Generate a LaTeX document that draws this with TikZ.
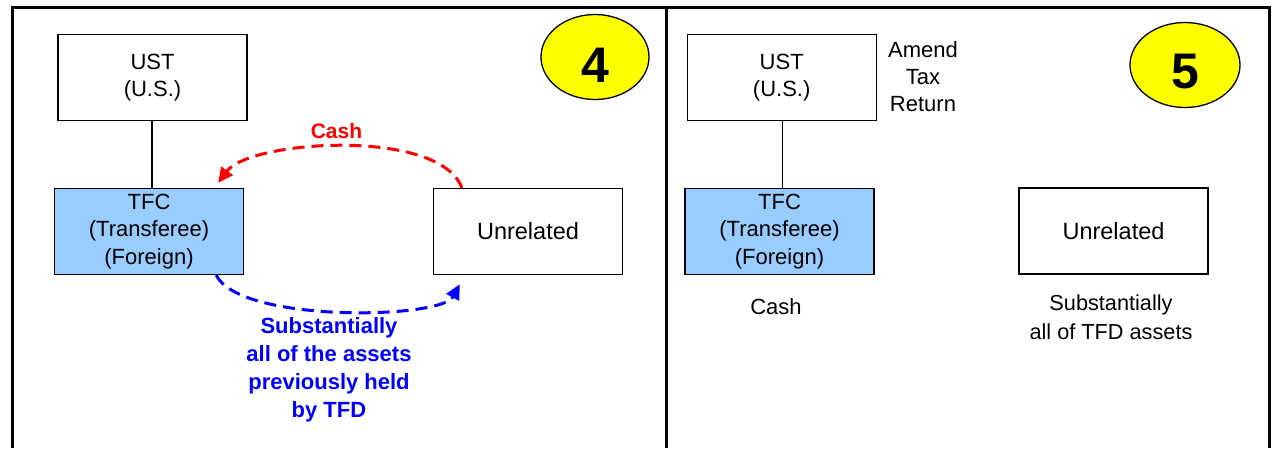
\documentclass[tikz,border=0pt]{standalone}
\usepackage{fontspec}
\setmainfont{Liberation Sans}
\usetikzlibrary{shapes.geometric,arrows.meta}
\definecolor{boxblue}{HTML}{99CCFF}
\definecolor{tagyellow}{HTML}{FFFF00}
\tikzset{
  entity/.style={draw=black, line width=1.4pt, minimum width=189pt, minimum height=86pt,
    inner sep=0pt, align=center, font=\fontsize{22}{27.5}\selectfont},
  foreign/.style={entity, fill=boxblue},
  plain/.style={align=center, inner sep=0pt, font=\fontsize{22}{27}\selectfont},
  boldnote/.style={align=center, inner sep=0pt, font=\bfseries\fontsize{22}{28}\selectfont},
  tag/.style={ellipse, draw=black, line width=1.3pt, fill=tagyellow, inner sep=0pt},
  digit/.style={inner sep=0pt, font=\bfseries\fontsize{50}{50}\selectfont},
  flow/.style={dashed, dash pattern=on 12pt off 7pt, line width=3pt,
    -{Triangle[length=15pt,width=14pt]}},
  frame/.style={line width=3pt}
}
\begin{document}
\begin{tikzpicture}[x=1pt, y=-1pt]
\useasboundingbox (0,0) rectangle (1272,448);

% panel frame
\draw[frame] (12,448) -- (12,7) -- (1269,7) -- (1269,448);
\draw[frame] (666.5,7) -- (666.5,448);

% ---- step 4 ----
\node[entity]  (ustL)   at (152.5,77.5) {UST\\(U.S.)};
\node[foreign] (tfcL)   at (149,231.5) {TFC\\(Transferee)\\(Foreign)};
\node[entity, font=\fontsize{23.5}{28}\selectfont] (unrelL) at (528,231.5) {Unrelated};
\draw[line width=1.2pt] (ustL.south -| 152,0) -- (tfcL.north -| 152,0);

\node[tag, minimum width=108pt, minimum height=85pt] (e4) at (595,57) {};
\node[digit] (d4) at ([yshift=-8pt]e4.center) {4};

\draw[flow, red] ([xshift=29pt]unrelL.north west)
  .. controls +(-22,-60) and +(32,-43) .. ([xshift=-26pt,yshift=5pt]tfcL.north east);
\node[boldnote, text=red, font=\bfseries\fontsize{21}{28}\selectfont] (cashL) at (336.5,131) {Cash};

\draw[flow, blue] ([xshift=-28pt]tfcL.south east)
  .. controls +(24,48) and +(-19,35) .. ([xshift=27pt,yshift=-9pt]unrelL.south west);
\node[boldnote, text=blue] (assetsL) at (329,370) {Substantially\\all of the assets\\previously held\\by TFD};

% ---- step 5 ----
\node[entity]  (ustR)   at (781.7,77.5) {UST\\(U.S.)};
\node[foreign] (tfcR)   at (779.5,231.5) {TFC\\(Transferee)\\(Foreign)};
\node[entity, font=\fontsize{23.5}{28}\selectfont] (unrelR) at (1113.5,231) {Unrelated};
\draw[line width=1.2pt] (ustR.south -| 782.5,0) -- (tfcR.north -| 782.5,0);

\node[plain] (amend) at (923,77) {Amend\\Tax\\Return};
\node[tag, minimum width=110pt, minimum height=85pt] (e5) at (1185,65) {};
\node[digit] (d5) at ([yshift=-7pt]e5.center) {5};

\node[plain] (cashR) at (776,307) {Cash};
\node[plain, font=\fontsize{21.7}{29}\selectfont] (assetsR) at (1111,317) {Substantially\\all of TFD assets};
\end{tikzpicture}
\end{document}
